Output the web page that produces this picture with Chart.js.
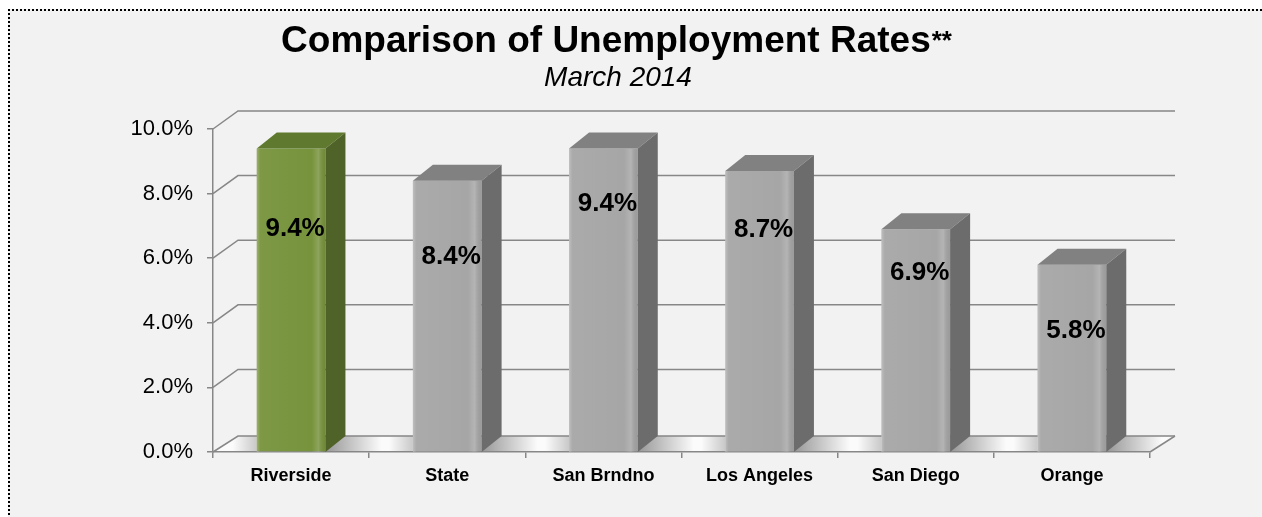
<!DOCTYPE html>
<html>
<head>
<meta charset="utf-8">
<style>
  html, body { margin: 0; padding: 0; background: #fff; overflow: hidden; }
  #frame {
    position: absolute; left: 8px; top: 9px; width: 1300px; height: 560px;
    background: #f2f2f2; border-top: 2px dotted #000; border-left: 2px dotted #000;
  }
  #myChart { position: absolute; left: 0; top: 0; }
</style>
</head>
<body>
<div id="frame"></div>
<canvas id="myChart" width="1262" height="517"></canvas>
<script src="https://cdn.jsdelivr.net/npm/chart.js"></script>
<script>
    const areas = ['Riverside', 'State', 'San Brndno', 'Los Angeles', 'San Diego', 'Orange'];
    const rates = [9.4, 8.4, 9.4, 8.7, 6.9, 5.8];
    const yTicks = [0, 2, 4, 6, 8, 10];

    const FONT = '"Liberation Sans", Arial, sans-serif';
    const GRID = '#878787';
    const WALL = { dx: 25, dy: -16 };   // depth of the back wall / floor
    const BAR = { dx: 20, dy: -16 };    // depth of each column

    const palette = {
        green: { face: '#77933c', top: '#5f7a2e', side: '#4f6228' },
        gray: { face: '#a6a6a6', top: '#818181', side: '#6c6c6c' }
    };
    function shade(i) {
        return areas[i] === 'Riverside' ? palette.green : palette.gray;
    }

    // fake 3D: floor, back wall grid, column tops/sides, value labels, title
    const threeD = {
        id: 'threeD',
        beforeDraw(chart) {
            const { ctx, chartArea: a, scales: { y } } = chart;
            const base = y.getPixelForValue(0);

            ctx.save();
            ctx.beginPath();
            ctx.moveTo(a.left, base);
            ctx.lineTo(a.right, base);
            ctx.lineTo(a.right + WALL.dx, base + WALL.dy);
            ctx.lineTo(a.left + WALL.dx, base + WALL.dy);
            ctx.closePath();
            ctx.fillStyle = '#fbfbfb';
            ctx.fill();
            ctx.clip();
            chart.getDatasetMeta(0).data.forEach(bar => {
                const l = bar.x - bar.width / 2, r = bar.x + bar.width / 2;
                let g = ctx.createLinearGradient(l - 24, 0, l, 0);
                g.addColorStop(0, 'rgba(0,0,0,0)');
                g.addColorStop(1, 'rgba(0,0,0,0.2)');
                ctx.fillStyle = g;
                ctx.fillRect(l - 24, base + WALL.dy, 24, -WALL.dy);
                g = ctx.createLinearGradient(r, 0, r + BAR.dx + 36, 0);
                g.addColorStop(0, 'rgba(0,0,0,0.4)');
                g.addColorStop(1, 'rgba(0,0,0,0)');
                ctx.fillStyle = g;
                ctx.fillRect(r, base + WALL.dy, BAR.dx + 36, -WALL.dy);
            });
            ctx.restore();

            ctx.save();
            ctx.strokeStyle = GRID;
            ctx.lineWidth = 1.5;
            y.ticks.forEach(t => {
                const py = y.getPixelForValue(t.value);
                const dy = t.value === 0 ? WALL.dy : WALL.dy - 2;
                ctx.beginPath();
                ctx.moveTo(a.left, py);
                ctx.lineTo(a.left + WALL.dx, py + dy);
                ctx.lineTo(a.right + WALL.dx, py + dy);
                ctx.stroke();
            });
            ctx.beginPath();
            ctx.moveTo(a.right, base);
            ctx.lineTo(a.right + WALL.dx, base + WALL.dy);
            ctx.stroke();
            ctx.restore();
        },
        afterDatasetsDraw(chart, args, opts) {
            const { ctx, scales: { y } } = chart;
            const base = y.getPixelForValue(0);
            ctx.save();
            chart.getDatasetMeta(0).data.forEach((bar, i) => {
                const c = shade(i);
                const l = bar.x - bar.width / 2, r = bar.x + bar.width / 2, t = bar.y;

                // sheen on the front face
                const g = ctx.createLinearGradient(l, 0, r, 0);
                g.addColorStop(0, 'rgba(255,255,255,0.28)');
                g.addColorStop(0.05, 'rgba(255,255,255,0.05)');
                g.addColorStop(0.8, 'rgba(255,255,255,0)');
                g.addColorStop(0.9, 'rgba(255,255,255,0.16)');
                g.addColorStop(1, 'rgba(0,0,0,0.06)');
                ctx.fillStyle = g;
                ctx.fillRect(l, t, r - l, base - t);

                ctx.beginPath();
                ctx.moveTo(l, t);
                ctx.lineTo(l + BAR.dx, t + BAR.dy);
                ctx.lineTo(r + BAR.dx, t + BAR.dy);
                ctx.lineTo(r, t);
                ctx.closePath();
                ctx.fillStyle = c.top;
                ctx.fill();

                ctx.beginPath();
                ctx.moveTo(r, t);
                ctx.lineTo(r + BAR.dx, t + BAR.dy);
                ctx.lineTo(r + BAR.dx, base + BAR.dy);
                ctx.lineTo(r, base);
                ctx.closePath();
                ctx.fillStyle = c.side;
                ctx.fill();

                ctx.font = 'bold 26px ' + FONT;
                ctx.fillStyle = '#000';
                ctx.textAlign = 'center';
                ctx.textBaseline = 'middle';
                ctx.fillText(rates[i].toFixed(1) + '%', bar.x + 4, t + opts.labelDrop[i]);
            });
            ctx.restore();
        },
        afterDraw(chart) {
            const ctx = chart.ctx;
            const cx = 616;
            ctx.save();
            ctx.fillStyle = '#000';
            ctx.textBaseline = 'alphabetic';
            ctx.textAlign = 'left';
            const main = 'Comparison of Unemployment Rates';
            ctx.font = 'bold 37px ' + FONT;
            const w1 = ctx.measureText(main).width;
            ctx.font = 'bold 26px ' + FONT;
            const w2 = ctx.measureText('**').width;
            const x0 = cx - (w1 + w2) / 2;
            ctx.font = 'bold 37px ' + FONT;
            ctx.fillText(main, x0, 52);
            ctx.font = 'bold 26px ' + FONT;
            ctx.fillText('**', x0 + w1 + 1, 49);
            ctx.font = 'italic 28px ' + FONT;
            ctx.textAlign = 'center';
            ctx.fillText('March 2014', cx + 2, 86);
            ctx.restore();
        }
    };

    const ctx = document.getElementById('myChart').getContext('2d');
    const myChart = new Chart(ctx, {
        type: 'bar',
        data: {
            labels: areas,
            datasets: [{
                data: rates,
                backgroundColor: areas.map((_, i) => shade(i).face),
                borderWidth: 0,
                barPercentage: 0.44,
                categoryPercentage: 1
            }]
        },
        options: {
            responsive: false,
            animation: false,
            devicePixelRatio: 1,
            layout: { padding: { top: 129, right: 112, left: 0, bottom: 0 } },
            plugins: {
                legend: { display: false },
                tooltip: { enabled: false },
                threeD: { labelDrop: [80, 76, 55, 59, 44, 66] }
            },
            scales: {
                x: {
                    grid: { drawOnChartArea: false, tickLength: 6, color: GRID, lineWidth: 1.5 },
                    border: { color: GRID, width: 1.5 },
                    ticks: { color: '#000', font: { family: FONT, size: 18, weight: 'bold' }, padding: 7 },
                    afterFit: s => { s.height = 65; }
                },
                y: {
                    min: 0,
                    max: 10,
                    afterBuildTicks: s => { s.ticks = yTicks.map(v => ({ value: v })); },
                    grid: { drawOnChartArea: false, tickLength: 6, color: GRID, lineWidth: 1.5 },
                    border: { color: GRID, width: 1.5 },
                    ticks: {
                        color: '#000',
                        font: { family: FONT, size: 22 },
                        padding: 14,
                        callback: v => v.toFixed(1) + '%'
                    },
                    afterFit: s => { s.width = 213; }
                }
            }
        },
        plugins: [threeD]
    });
</script>
</body>
</html>
